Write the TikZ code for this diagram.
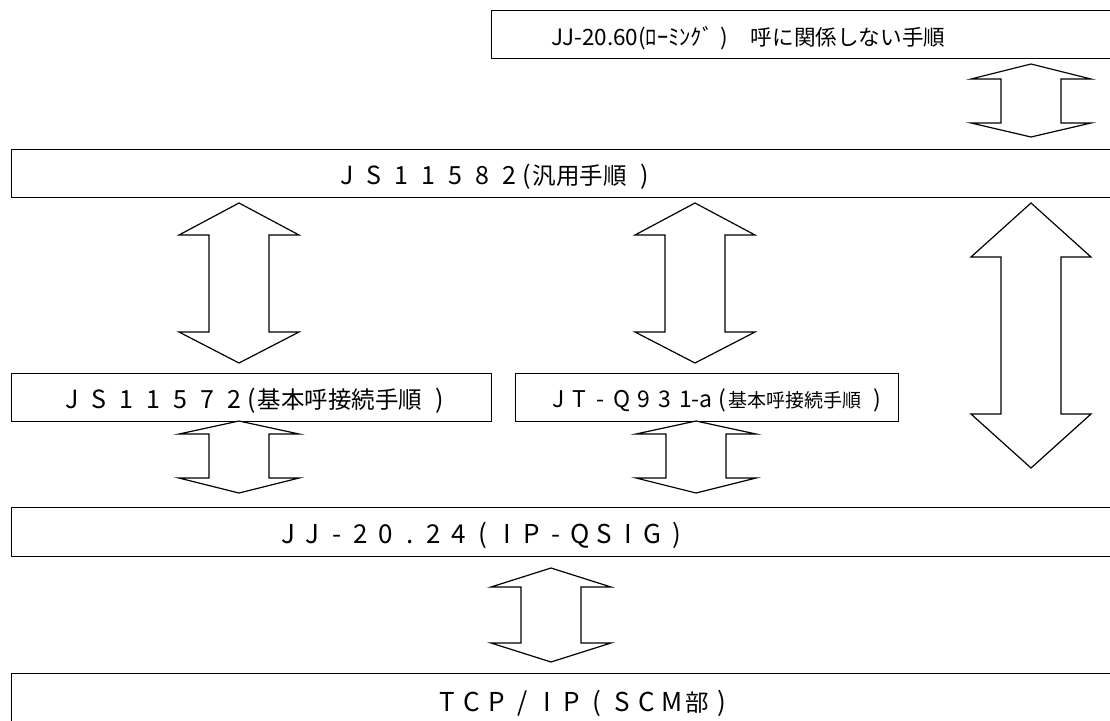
\documentclass[tikz,border=0pt]{standalone}
\usepackage{fontspec}
\newfontfamily\jp{Noto Sans CJK JP}
\newlength\cellw
\def\monoend{\monoend}
\newcommand\mono[2]{\setlength\cellw{#1}\monoloop#2\monoend}
\def\monoloop#1{\ifx#1\monoend\else\makebox[\cellw]{#1}\expandafter\monoloop\fi}
\newcommand\fs[1]{\fontsize{#1}{#1}\selectfont}
\newcommand\dbarrow[5]{%
  \draw[arr] (#1,#2) -- (#1+60,#3) -- (#1+30,#3) -- (#1+30,#4) -- (#1+60,#4) -- (#1,#5)
    -- (#1-60,#4) -- (#1-30,#4) -- (#1-30,#3) -- (#1-60,#3) -- cycle;}
\begin{document}
\begin{tikzpicture}[x=1pt,y=-1pt,
  box/.style={draw, line width=1.4pt, inner sep=0pt, anchor=north west},
  lbl/.style={inner sep=0pt, anchor=base west, font=\jp},
  arr/.style={draw, line width=1.2pt, line join=miter, fill=white}]
\useasboundingbox (0,0) rectangle (1110,720);
\clip (0,0) rectangle (1110,720);
% boxes
\node[box, minimum width=640pt, minimum height=48pt] (roam) at (491,10) {};
\node[box, minimum width=1120pt, minimum height=48pt] (gen) at (11,149) {};
\node[box, minimum width=480pt, minimum height=48pt] (basic) at (11,373) {};
\node[box, minimum width=383pt, minimum height=48pt] (jtq) at (515,373) {};
\node[box, minimum width=1120pt, minimum height=49pt] (qsig) at (11,507) {};
\node[box, minimum width=1120pt, minimum height=80pt] (tcp) at (11,673) {};
% labels
\node[lbl, font=\jp\fs{21.6}] (troam) at (551,45)
  {\makebox[178pt][l]{{\fs{22.5}JJ-20.60(ﾛｰﾐﾝｸﾞ\hspace{7pt})}}　呼に関係しない手順};
\node[lbl, font=\jp\fs{25}] (tgen) at (333.5,184)
  {\mono{27pt}{JS11582}\makebox[10pt][l]{(}{\fs{23.5}汎用手順}\hspace{13pt}\makebox[10pt]{)}};
\node[lbl, font=\jp\fs{25}] (tbasic) at (58.5,408)
  {\mono{27pt}{JS11572}\makebox[10pt][l]{(}{\fs{23.5}基本呼接続手順}\hspace{13pt}\makebox[10pt]{)}};
\node[lbl, font=\jp\fs{23}] (tjtq) at (547.4,407)
  {\mono{21.3pt}{JT-Q931}\hspace{-5pt}-a\hspace{6pt}(\hspace{2pt}{\fs{19}基本呼接続手順}\hspace{12pt})};
\node[lbl, font=\jp\fs{26}] (tqsig) at (275.9,543) {\mono{24.3pt}{JJ-20.24(IP-QSIG)}};
\node[lbl, font=\jp\fs{26}] (ttcp) at (434.5,711) {\mono{25pt}{TCP/IP(SCM{\fs{23.5}部})}};
% double arrows
\dbarrow{1031}{64}{79}{123}{137}
\dbarrow{239}{203}{235}{332}{363}
\dbarrow{695}{203}{235}{332}{363}
\dbarrow{1031}{203}{257}{414}{468}
\dbarrow{239}{421}{434}{478}{493}
\dbarrow{696}{421}{434}{478}{493}
\dbarrow{551}{568}{587}{643}{662}
\end{tikzpicture}
\end{document}
